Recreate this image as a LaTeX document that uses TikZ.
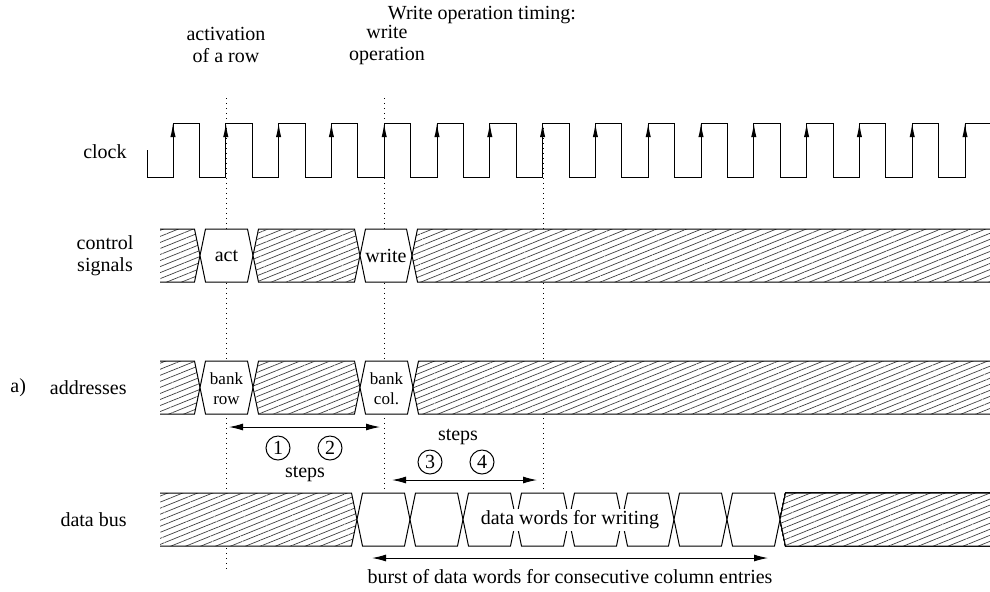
\documentclass[tikz,border=0pt]{standalone}
\usepackage{fontspec}
\setmainfont{Liberation Serif}
\usetikzlibrary{patterns.meta,arrows.meta}

\tikzset{
  sig/.style={line width=0.5pt},
  hatch/.style={pattern={Lines[angle=22,distance=2.8pt,line width=0.35pt]},pattern color=black!75},
  guide/.style={dotted,line width=0.5pt},
  span/.style={line width=0.5pt,{Latex[length=7pt,width=3.5pt]}-{Latex[length=7pt,width=3.5pt]}},
  rise/.style={line width=0.5pt,-{Latex[length=7pt,width=2.6pt]}},
  lbl/.style={font=\fontsize{10}{11}\selectfont,inner sep=0pt,align=center},
  small/.style={font=\fontsize{8.5}{10}\selectfont,inner sep=0pt,align=center},
  num/.style={circle,draw,line width=0.5pt,inner sep=0pt,minimum size=12pt,font=\fontsize{10}{11}\selectfont},
}

% one bus cell between two crossings #1 and #2 on the row centred at #3
\newcommand\buscell[4]{%
  \filldraw[sig,fill=white] (#1,#3) -- ({#1+5.5},{#3-26.5}) -- ({#2-5.5},{#3-26.5}) -- (#2,#3)
     -- ({#2-5.5},{#3+26.5}) -- ({#1+5.5},{#3+26.5}) -- cycle;
  \ifx\relax#4\relax\else
  \fill[hatch] (#1,#3) -- ({#1+5.5},{#3-26.5}) -- ({#2-5.5},{#3-26.5}) -- (#2,#3)
     -- ({#2-5.5},{#3+26.5}) -- ({#1+5.5},{#3+26.5}) -- cycle;
  \fi}
% hatched run from the left end of the row up to crossing #1
\newcommand\buslead[2]{%
  \fill[white] (160,{#2-26.5}) -- ({#1-5.5},{#2-26.5}) -- (#1,#2) -- ({#1-5.5},{#2+26.5}) -- (160,{#2+26.5}) -- cycle;
  \fill[hatch] (160,{#2-26.5}) -- ({#1-5.5},{#2-26.5}) -- (#1,#2) -- ({#1-5.5},{#2+26.5}) -- (160,{#2+26.5}) -- cycle;
  \draw[sig] (160,{#2-26.5}) -- ({#1-5.5},{#2-26.5}) -- (#1,#2) -- ({#1-5.5},{#2+26.5}) -- (160,{#2+26.5});}
% hatched run from crossing #1 to the right end of the row
\newcommand\bustail[2]{%
  \fill[white] (990,{#2-26.5}) -- ({#1+5.5},{#2-26.5}) -- (#1,#2) -- ({#1+5.5},{#2+26.5}) -- (990,{#2+26.5}) -- cycle;
  \fill[hatch] (990,{#2-26.5}) -- ({#1+5.5},{#2-26.5}) -- (#1,#2) -- ({#1+5.5},{#2+26.5}) -- (990,{#2+26.5}) -- cycle;
  \draw[sig] (990,{#2-26.5}) -- ({#1+5.5},{#2-26.5}) -- (#1,#2) -- ({#1+5.5},{#2+26.5}) -- (990,{#2+26.5});}

\begin{document}
\begin{tikzpicture}[x=0.5pt,y=-0.5pt]
\useasboundingbox (0,0) rectangle (990,591);

% headings
\node[lbl] (title) at (482,15) {Write operation timing:};
\node[lbl] (actlbl) at (226,45) {activation\\of a row};
\node[lbl] (wrlbl) at (387,45) {write\\operation};

% signal names
\node[lbl,anchor=east] (clk) at (127,152) {clock};
\node[lbl] (ctl) at (105,256) {control\\signals};
\node[lbl,anchor=west] (part) at (10,388) {a)};
\node[lbl,anchor=east] (adr) at (127,388) {addresses};
\node[lbl,anchor=east] (dbus) at (127,520) {data bus};

% guide lines
\draw[guide] (226,98) -- (226,570);
\draw[guide] (384,98) -- (384,493);
\draw[guide] (543,123) -- (543,493);

% clock
\draw[sig] (147,150) -- (147,177)
  \foreach \k in {0,...,14} { -- ({173+52.8*\k},177) -- ({173+52.8*\k},123)
     -- ({199.4+52.8*\k},123) -- ({199.4+52.8*\k},177) }
  -- (965,177) -- (965,123) -- (990,123);
\foreach \k in {0,...,15} \draw[rise] ({173+52.8*\k},177) -- ({173+52.8*\k},123);

% control signals
\buslead{200}{255.5}
\buscell{200}{253}{255.5}{}
\buscell{253}{360}{255.5}{h}
\buscell{360}{412}{255.5}{}
\bustail{412}{255.5}
\node[lbl] (act) at (226.5,255.5) {act};
\node[lbl] (wr) at (386,255.5) {write};

% addresses
\buslead{200}{387.5}
\buscell{200}{253}{387.5}{}
\buscell{253}{360}{387.5}{h}
\buscell{360}{413}{387.5}{}
\bustail{413}{387.5}
\node[small] (brow) at (226.5,389) {bank\\row};
\node[small] (bcol) at (386.5,389) {bank\\col.};

% data bus
\buslead{357}{519.5}
\foreach \a/\b in {357/410,410/463,463/516,516/569,569/622,622/674,674/727,727/780}
  \buscell{\a}{\b}{519.5}{}
\bustail{780}{519.5}
\node[lbl,fill=white,inner sep=1pt] (dw) at (570,520) {data words for writing};

% steps
\coordinate (s1l) at (229,427);
\coordinate (s1r) at (380,427);
\draw[span] (s1l) -- (s1r);
\node[num] (n1) at (278,448) {1};
\node[num] (n2) at (330,448) {2};
\node[lbl] (st1) at (305,474) {steps};

\coordinate (s2l) at (392,480);
\coordinate (s2r) at (537,480);
\draw[span] (s2l) -- (s2r);
\node[num] (n3) at (430,462) {3};
\node[num] (n4) at (482,462) {4};
\node[lbl] (st2) at (458,437) {steps};

% burst
\coordinate (bl) at (372,558);
\coordinate (br) at (768,558);
\draw[span] (bl) -- (br);
\node[lbl] (burst) at (570,577) {burst of data words for consecutive column entries};
\end{tikzpicture}
\end{document}
